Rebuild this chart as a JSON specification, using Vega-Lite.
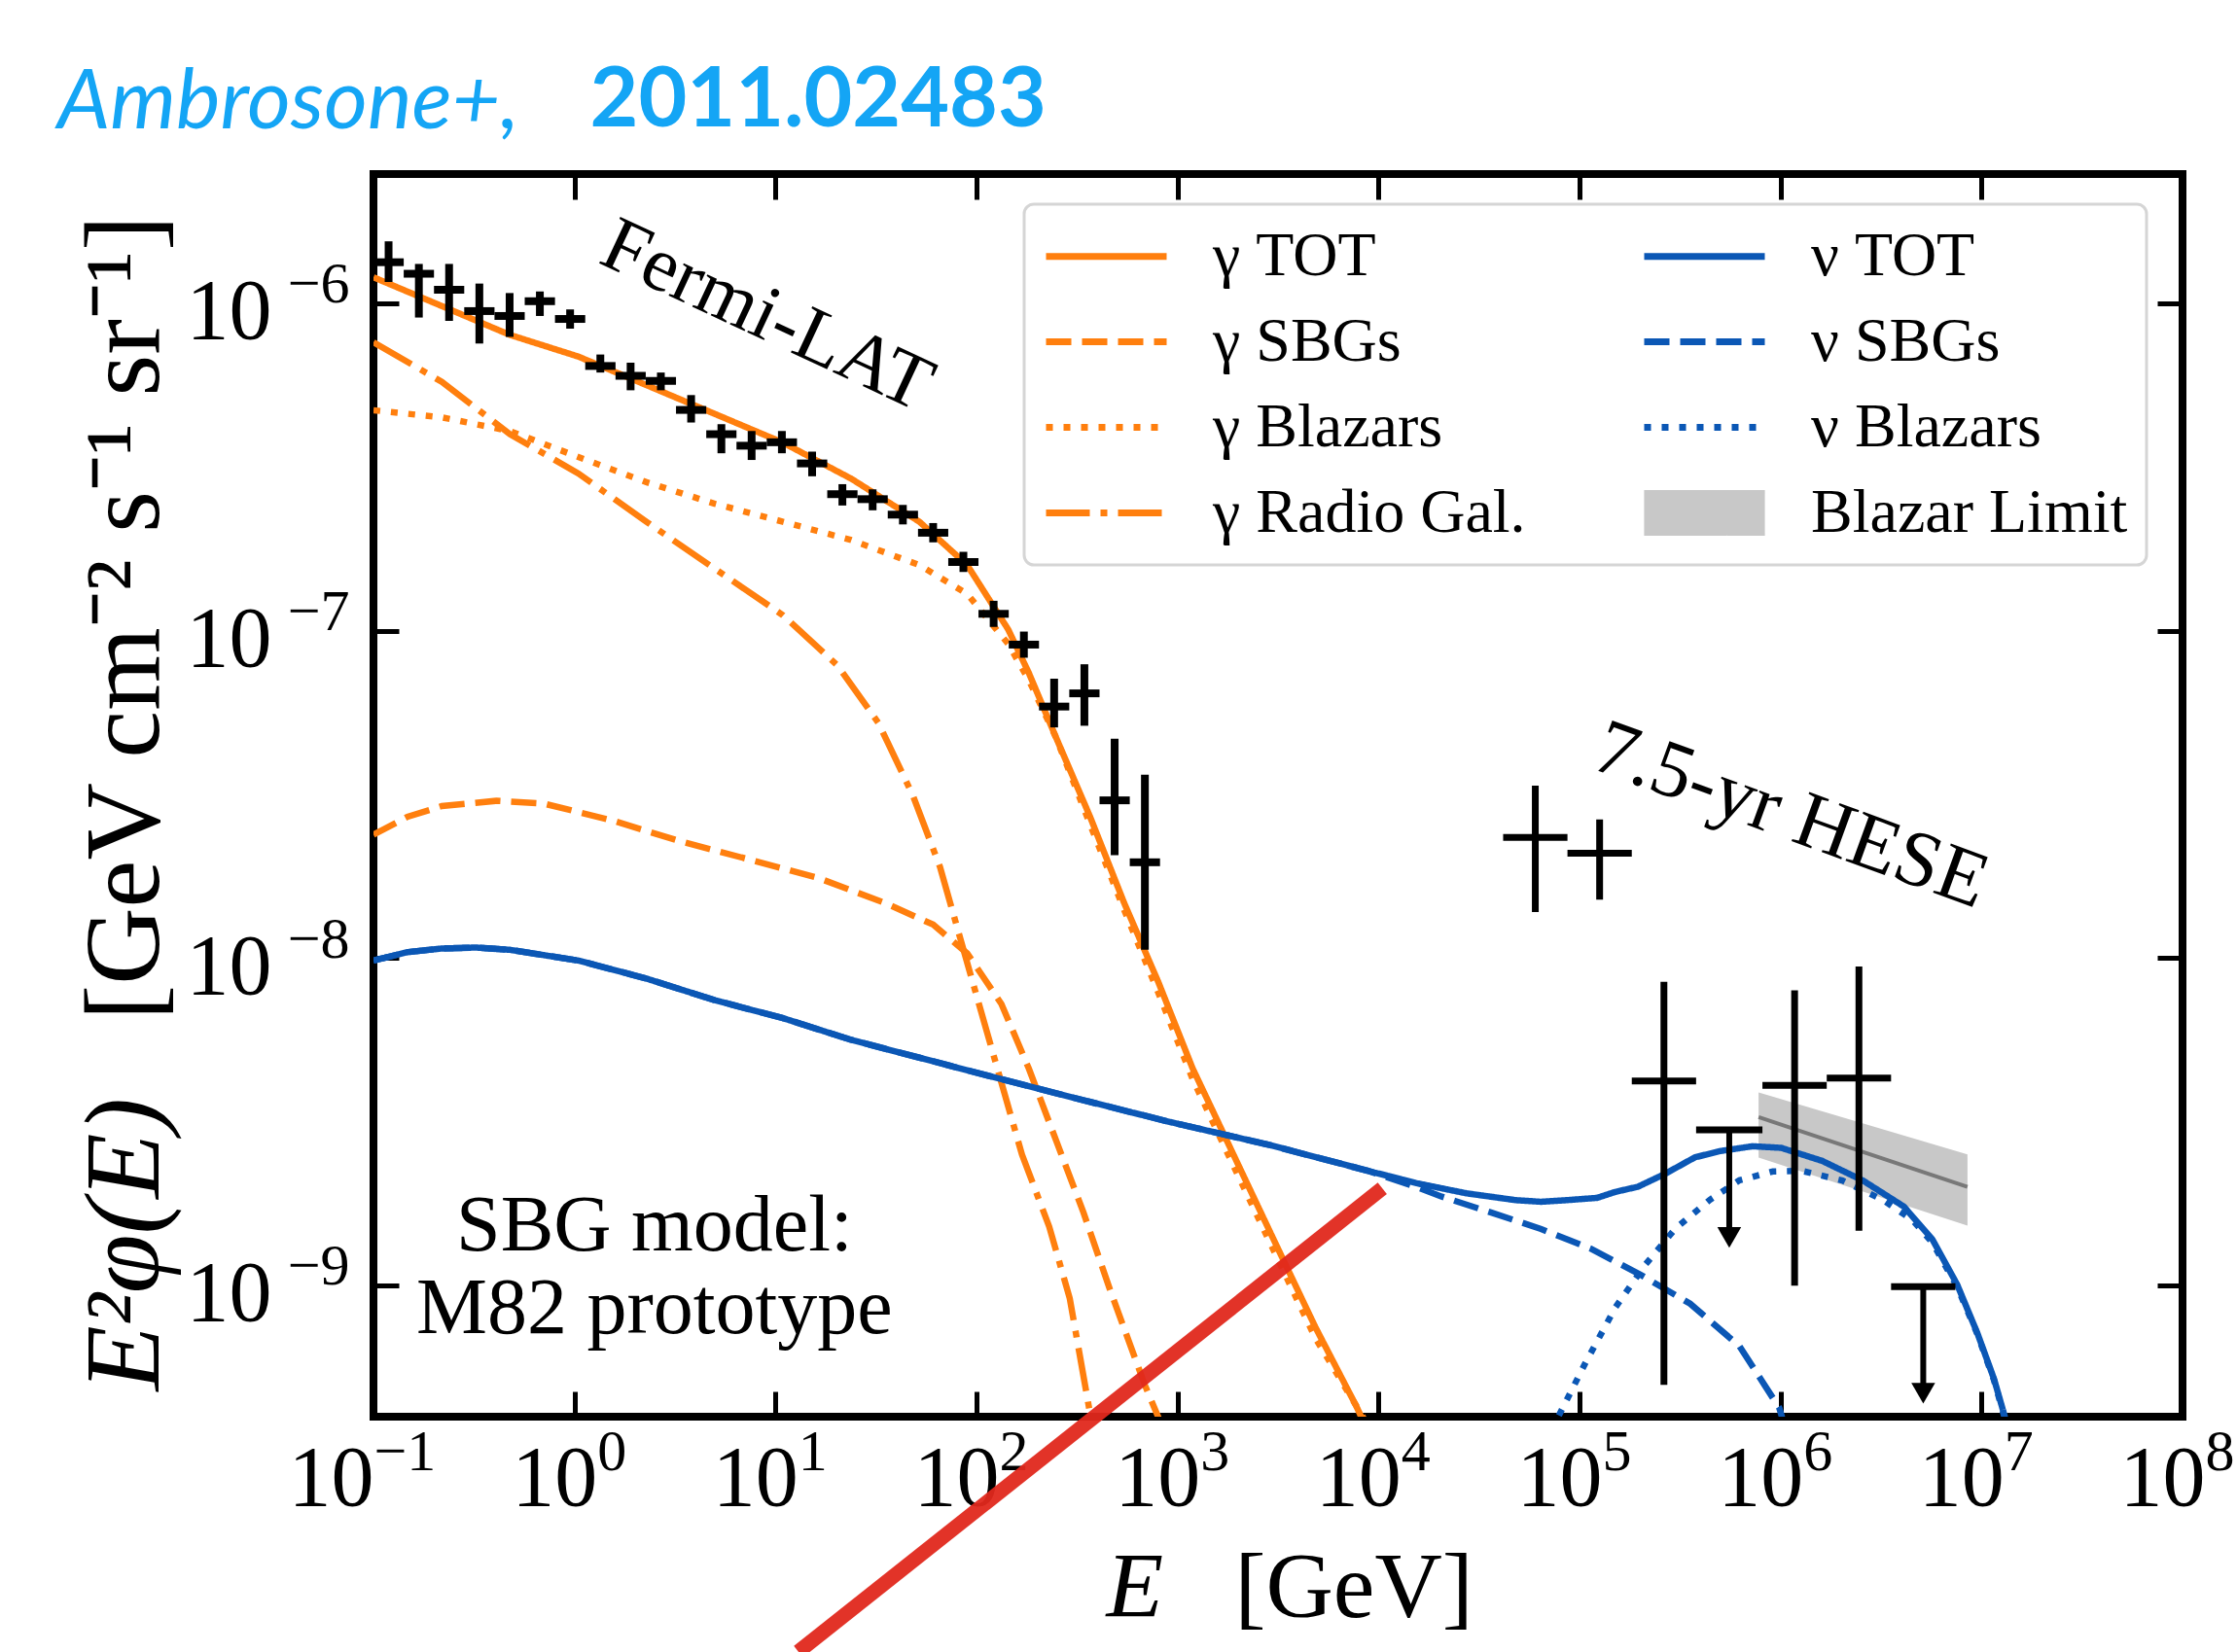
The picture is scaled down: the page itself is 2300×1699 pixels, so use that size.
{
"$schema": "https://vega.github.io/schema/vega-lite/v6.json",
"width": 1860, "height": 1278,
"autosize": {"type": "none"},
"padding": {"left": 384, "top": 179, "right": 56, "bottom": 242},
"background": "white",
"title": {"text": "Ambrosone+,", "anchor": "start", "frame": "group", "dx": -325, "dy": 158, "offset": 0, "font": "Lato", "fontSize": 86, "fontStyle": "italic", "fontWeight": "normal", "color": "#14a5f5", "baseline": "alphabetic"},
"config": {
  "view": {"stroke": "black", "strokeWidth": 8},
  "axis": {"grid": false, "domain": false, "labelFont": "Liberation Serif", "titleFont": "Liberation Serif", "labelColor": "black", "titleColor": "black", "tickColor": "black", "labelFlush": false, "labelOverlap": false, "labelBound": false, "titleFontWeight": "normal"},
  "legend": {"labelFont": "Liberation Serif", "labelFontSize": 64, "labelColor": "black", "labelLimit": 1000, "labelOffset": 106, "symbolType": "M-1,0H3", "symbolSize": 3844, "symbolStrokeWidth": 7, "columnPadding": 107, "rowPadding": 21, "padding": 19, "strokeColor": "#d5d5d5", "strokeWidth": 3, "fillColor": "white", "cornerRadius": 10, "symbolOpacity": 1}
},
"datasets": {
  "curves": [
    {"series": "γ TOT", "E": 0.1, "F": 1.2e-6},
    {"series": "γ TOT", "E": 0.2188, "F": 9.8e-7},
    {"series": "γ TOT", "E": 0.4775, "F": 8.0e-7},
    {"series": "γ TOT", "E": 1.045, "F": 6.87e-7},
    {"series": "γ TOT", "E": 2.28, "F": 5.62e-7},
    {"series": "γ TOT", "E": 4.989, "F": 4.59e-7},
    {"series": "γ TOT", "E": 10.89, "F": 3.75e-7},
    {"series": "γ TOT", "E": 23.82, "F": 2.91e-7},
    {"series": "γ TOT", "E": 52.0, "F": 2.15e-7},
    {"series": "γ TOT", "E": 89.9, "F": 1.585e-7},
    {"series": "γ TOT", "E": 143.9, "F": 1.007e-7},
    {"series": "γ TOT", "E": 182.0, "F": 7.43e-8},
    {"series": "γ TOT", "E": 248.9, "F": 4.71e-8},
    {"series": "γ TOT", "E": 367.3, "F": 2.70e-8},
    {"series": "γ TOT", "E": 543.3, "F": 1.47e-8},
    {"series": "γ TOT", "E": 803.5, "F": 8.43e-9},
    {"series": "γ TOT", "E": 1189, "F": 4.60e-9},
    {"series": "γ TOT", "E": 1897, "F": 2.51e-9},
    {"series": "γ TOT", "E": 3034, "F": 1.365e-9},
    {"series": "γ TOT", "E": 4853, "F": 7.45e-10},
    {"series": "γ TOT", "E": 7762, "F": 4.27e-10},
    {"series": "γ TOT", "E": 8913, "F": 3.55e-10},
    {"series": "γ Blazars", "E": 0.1, "F": 4.71e-7},
    {"series": "γ Blazars", "E": 0.2188, "F": 4.48e-7},
    {"series": "γ Blazars", "E": 0.4775, "F": 4.07e-7},
    {"series": "γ Blazars", "E": 1.045, "F": 3.39e-7},
    {"series": "γ Blazars", "E": 2.28, "F": 2.84e-7},
    {"series": "γ Blazars", "E": 4.989, "F": 2.44e-7},
    {"series": "γ Blazars", "E": 10.89, "F": 2.15e-7},
    {"series": "γ Blazars", "E": 23.82, "F": 1.89e-7},
    {"series": "γ Blazars", "E": 52.0, "F": 1.585e-7},
    {"series": "γ Blazars", "E": 89.9, "F": 1.294e-7},
    {"series": "γ Blazars", "E": 143.9, "F": 9.10e-8},
    {"series": "γ Blazars", "E": 182.0, "F": 7.06e-8},
    {"series": "γ Blazars", "E": 248.9, "F": 4.71e-8},
    {"series": "γ Blazars", "E": 367.3, "F": 2.56e-8},
    {"series": "γ Blazars", "E": 543.3, "F": 1.40e-8},
    {"series": "γ Blazars", "E": 803.5, "F": 7.82e-9},
    {"series": "γ Blazars", "E": 1189, "F": 4.27e-9},
    {"series": "γ Blazars", "E": 1897, "F": 2.32e-9},
    {"series": "γ Blazars", "E": 3034, "F": 1.265e-9},
    {"series": "γ Blazars", "E": 4853, "F": 6.90e-10},
    {"series": "γ Blazars", "E": 8395, "F": 3.95e-10},
    {"series": "γ Blazars", "E": 9550, "F": 3.39e-10},
    {"series": "γ Radio Gal.", "E": 0.1, "F": 7.60e-7},
    {"series": "γ Radio Gal.", "E": 0.2188, "F": 5.75e-7},
    {"series": "γ Radio Gal.", "E": 0.4775, "F": 3.98e-7},
    {"series": "γ Radio Gal.", "E": 1.045, "F": 3.02e-7},
    {"series": "γ Radio Gal.", "E": 2.28, "F": 2.15e-7},
    {"series": "γ Radio Gal.", "E": 4.989, "F": 1.545e-7},
    {"series": "γ Radio Gal.", "E": 10.89, "F": 1.114e-7},
    {"series": "γ Radio Gal.", "E": 20.37, "F": 7.82e-8},
    {"series": "γ Radio Gal.", "E": 32.58, "F": 5.21e-8},
    {"series": "γ Radio Gal.", "E": 48.19, "F": 3.14e-8},
    {"series": "γ Radio Gal.", "E": 65.77, "F": 1.90e-8},
    {"series": "γ Radio Gal.", "E": 83.18, "F": 1.143e-8},
    {"series": "γ Radio Gal.", "E": 105.2, "F": 6.89e-9},
    {"series": "γ Radio Gal.", "E": 133.0, "F": 4.16e-9},
    {"series": "γ Radio Gal.", "E": 168.3, "F": 2.51e-9},
    {"series": "γ Radio Gal.", "E": 230.1, "F": 1.51e-9},
    {"series": "γ Radio Gal.", "E": 291.1, "F": 9.12e-10},
    {"series": "γ Radio Gal.", "E": 367.3, "F": 4.06e-10},
    {"series": "γ Radio Gal.", "E": 398.1, "F": 3.16e-10},
    {"series": "γ SBGs", "E": 0.1, "F": 2.38e-8},
    {"series": "γ SBGs", "E": 0.1479, "F": 2.70e-8},
    {"series": "γ SBGs", "E": 0.2188, "F": 2.91e-8},
    {"series": "γ SBGs", "E": 0.4083, "F": 3.02e-8},
    {"series": "γ SBGs", "E": 0.7063, "F": 2.96e-8},
    {"series": "γ SBGs", "E": 1.542, "F": 2.63e-8},
    {"series": "γ SBGs", "E": 3.373, "F": 2.27e-8},
    {"series": "γ SBGs", "E": 7.379, "F": 2.0e-8},
    {"series": "γ SBGs", "E": 16.11, "F": 1.76e-8},
    {"series": "γ SBGs", "E": 35.24, "F": 1.47e-8},
    {"series": "γ SBGs", "E": 60.81, "F": 1.265e-8},
    {"series": "γ SBGs", "E": 89.9, "F": 1.033e-8},
    {"series": "γ SBGs", "E": 133.0, "F": 7.24e-9},
    {"series": "γ SBGs", "E": 182.0, "F": 4.60e-9},
    {"series": "γ SBGs", "E": 248.9, "F": 2.77e-9},
    {"series": "γ SBGs", "E": 340.4, "F": 1.67e-9},
    {"series": "γ SBGs", "E": 464.5, "F": 9.59e-10},
    {"series": "γ SBGs", "E": 687.1, "F": 4.97e-10},
    {"series": "γ SBGs", "E": 803.5, "F": 3.95e-10},
    {"series": "γ SBGs", "E": 891.3, "F": 3.39e-10},
    {"series": "ν SBGs", "E": 0.1, "F": 9.82e-9},
    {"series": "ν SBGs", "E": 0.1479, "F": 1.042e-8},
    {"series": "ν SBGs", "E": 0.2188, "F": 1.069e-8},
    {"series": "ν SBGs", "E": 0.3228, "F": 1.076e-8},
    {"series": "ν SBGs", "E": 0.4775, "F": 1.059e-8},
    {"series": "ν SBGs", "E": 1.045, "F": 9.82e-9},
    {"series": "ν SBGs", "E": 2.28, "F": 8.65e-9},
    {"series": "ν SBGs", "E": 4.989, "F": 7.43e-9},
    {"series": "ν SBGs", "E": 10.89, "F": 6.55e-9},
    {"series": "ν SBGs", "E": 23.82, "F": 5.62e-9},
    {"series": "ν SBGs", "E": 52.0, "F": 4.96e-9},
    {"series": "ν SBGs", "E": 113.8, "F": 4.37e-9},
    {"series": "ν SBGs", "E": 248.9, "F": 3.86e-9},
    {"series": "ν SBGs", "E": 905.7, "F": 3.16e-9},
    {"series": "ν SBGs", "E": 2825, "F": 2.69e-9},
    {"series": "ν SBGs", "E": 8810, "F": 2.24e-9},
    {"series": "ν SBGs", "E": 15524, "F": 1.995e-9},
    {"series": "ν SBGs", "E": 20654, "F": 1.866e-9},
    {"series": "ν SBGs", "E": 36475, "F": 1.667e-9},
    {"series": "ν SBGs", "E": 64417, "F": 1.486e-9},
    {"series": "ν SBGs", "E": 113763, "F": 1.294e-9},
    {"series": "ν SBGs", "E": 200447, "F": 1.079e-9},
    {"series": "ν SBGs", "E": 354813, "F": 8.79e-10},
    {"series": "ν SBGs", "E": 625173, "F": 6.52e-10},
    {"series": "ν SBGs", "E": 986279, "F": 4.22e-10},
    {"series": "ν SBGs", "E": 1071500, "F": 3.55e-10},
    {"series": "ν Blazars", "E": 70795, "F": 3.16e-10},
    {"series": "ν Blazars", "E": 78705, "F": 3.99e-10},
    {"series": "ν Blazars", "E": 107399, "F": 5.82e-10},
    {"series": "ν Blazars", "E": 151008, "F": 8.57e-10},
    {"series": "ν Blazars", "E": 212324, "F": 1.156e-9},
    {"series": "ν Blazars", "E": 298538, "F": 1.486e-9},
    {"series": "ν Blazars", "E": 444631, "F": 1.824e-9},
    {"series": "ν Blazars", "E": 625173, "F": 2.094e-9},
    {"series": "ν Blazars", "E": 916220, "F": 2.228e-9},
    {"series": "ν Blazars", "E": 1273500, "F": 2.239e-9},
    {"series": "ν Blazars", "E": 2032400, "F": 2.089e-9},
    {"series": "ν Blazars", "E": 3250900, "F": 1.82e-9},
    {"series": "ν Blazars", "E": 4518600, "F": 1.585e-9},
    {"series": "ν Blazars", "E": 5701600, "F": 1.349e-9},
    {"series": "ν Blazars", "E": 7568300, "F": 9.89e-10},
    {"series": "ν Blazars", "E": 9549900, "F": 7.08e-10},
    {"series": "ν Blazars", "E": 11535000, "F": 5.13e-10},
    {"series": "ν Blazars", "E": 12972000, "F": 3.98e-10},
    {"series": "ν Blazars", "E": 14125000, "F": 3.31e-10},
    {"series": "ν TOT", "E": 0.1, "F": 9.82e-9},
    {"series": "ν TOT", "E": 0.1479, "F": 1.042e-8},
    {"series": "ν TOT", "E": 0.2188, "F": 1.069e-8},
    {"series": "ν TOT", "E": 0.3228, "F": 1.076e-8},
    {"series": "ν TOT", "E": 0.4775, "F": 1.059e-8},
    {"series": "ν TOT", "E": 1.045, "F": 9.82e-9},
    {"series": "ν TOT", "E": 2.28, "F": 8.65e-9},
    {"series": "ν TOT", "E": 4.989, "F": 7.43e-9},
    {"series": "ν TOT", "E": 10.89, "F": 6.55e-9},
    {"series": "ν TOT", "E": 23.82, "F": 5.62e-9},
    {"series": "ν TOT", "E": 52.0, "F": 4.96e-9},
    {"series": "ν TOT", "E": 113.8, "F": 4.37e-9},
    {"series": "ν TOT", "E": 248.9, "F": 3.86e-9},
    {"series": "ν TOT", "E": 905.7, "F": 3.16e-9},
    {"series": "ν TOT", "E": 2825, "F": 2.69e-9},
    {"series": "ν TOT", "E": 8810, "F": 2.24e-9},
    {"series": "ν TOT", "E": 15524, "F": 2.05e-9},
    {"series": "ν TOT", "E": 27416, "F": 1.91e-9},
    {"series": "ν TOT", "E": 48417, "F": 1.82e-9},
    {"series": "ν TOT", "E": 64417, "F": 1.80e-9},
    {"series": "ν TOT", "E": 85507, "F": 1.82e-9},
    {"series": "ν TOT", "E": 122180, "F": 1.85e-9},
    {"series": "ν TOT", "E": 151008, "F": 1.93e-9},
    {"series": "ν TOT", "E": 194984, "F": 2.0e-9},
    {"series": "ν TOT", "E": 266073, "F": 2.19e-9},
    {"series": "ν TOT", "E": 374973, "F": 2.46e-9},
    {"series": "ν TOT", "E": 498884, "F": 2.57e-9},
    {"series": "ν TOT", "E": 726106, "F": 2.66e-9},
    {"series": "ν TOT", "E": 1007000, "F": 2.63e-9},
    {"series": "ν TOT", "E": 1611000, "F": 2.40e-9},
    {"series": "ν TOT", "E": 2570000, "F": 2.09e-9},
    {"series": "ν TOT", "E": 4111000, "F": 1.74e-9},
    {"series": "ν TOT", "E": 5702000, "F": 1.38e-9},
    {"series": "ν TOT", "E": 7568000, "F": 1.005e-9},
    {"series": "ν TOT", "E": 9550000, "F": 7.13e-10},
    {"series": "ν TOT", "E": 11535000, "F": 5.18e-10},
    {"series": "ν TOT", "E": 12972000, "F": 4.03e-10},
    {"series": "ν TOT", "E": 14125000, "F": 3.31e-10}
  ],
  "band": [
    {"E": 778000, "lo": 2.455e-9, "hi": 3.882e-9, "mid": 3.266e-9},
    {"E": 8510000, "lo": 1.521e-9, "hi": 2.512e-9, "mid": 2.0e-9}
  ],
  "fermi": [
    {"E": 0.1189, "Elo": 0.1, "Ehi": 0.1414, "F": 1.334e-6, "Flo": 1.161e-6, "Fhi": 1.545e-6},
    {"E": 0.1682, "Elo": 0.1414, "Ehi": 0.2, "F": 1.230e-6, "Flo": 9.04e-7, "Fhi": 1.318e-6},
    {"E": 0.2378, "Elo": 0.2, "Ehi": 0.2828, "F": 1.099e-6, "Flo": 8.83e-7, "Fhi": 1.318e-6},
    {"E": 0.3363, "Elo": 0.2828, "Ehi": 0.4, "F": 9.46e-7, "Flo": 7.53e-7, "Fhi": 1.148e-6},
    {"E": 0.4756, "Elo": 0.4, "Ehi": 0.5655, "F": 9.14e-7, "Flo": 7.89e-7, "Fhi": 1.074e-6},
    {"E": 0.6725, "Elo": 0.5655, "Ehi": 0.7998, "F": 1.014e-6, "Flo": 9.14e-7, "Fhi": 1.086e-6},
    {"E": 0.951, "Elo": 0.7998, "Ehi": 1.131, "F": 8.95e-7, "Flo": 8.36e-7, "Fhi": 9.57e-7},
    {"E": 1.345, "Elo": 1.131, "Ehi": 1.6, "F": 6.43e-7, "Flo": 6.14e-7, "Fhi": 6.97e-7},
    {"E": 1.902, "Elo": 1.6, "Ehi": 2.262, "F": 6.0e-7, "Flo": 5.42e-7, "Fhi": 6.58e-7},
    {"E": 2.69, "Elo": 2.262, "Ehi": 3.199, "F": 5.79e-7, "Flo": 5.42e-7, "Fhi": 6.14e-7},
    {"E": 3.804, "Elo": 3.199, "Ehi": 4.524, "F": 4.72e-7, "Flo": 4.32e-7, "Fhi": 5.24e-7},
    {"E": 5.38, "Elo": 4.524, "Ehi": 6.397, "F": 3.98e-7, "Flo": 3.48e-7, "Fhi": 4.27e-7},
    {"E": 7.607, "Elo": 6.397, "Ehi": 9.046, "F": 3.67e-7, "Flo": 3.32e-7, "Fhi": 4.07e-7},
    {"E": 10.76, "Elo": 9.046, "Ehi": 12.79, "F": 3.76e-7, "Flo": 3.48e-7, "Fhi": 4.07e-7},
    {"E": 15.21, "Elo": 12.79, "Ehi": 18.09, "F": 3.24e-7, "Flo": 2.96e-7, "Fhi": 3.52e-7},
    {"E": 21.52, "Elo": 18.09, "Ehi": 25.59, "F": 2.61e-7, "Flo": 2.41e-7, "Fhi": 2.80e-7},
    {"E": 30.43, "Elo": 25.59, "Ehi": 36.18, "F": 2.52e-7, "Flo": 2.33e-7, "Fhi": 2.70e-7},
    {"E": 43.03, "Elo": 36.18, "Ehi": 51.17, "F": 2.26e-7, "Flo": 2.11e-7, "Fhi": 2.42e-7},
    {"E": 60.85, "Elo": 51.17, "Ehi": 72.36, "F": 1.99e-7, "Flo": 1.86e-7, "Fhi": 2.13e-7},
    {"E": 86.06, "Elo": 72.36, "Ehi": 102.3, "F": 1.62e-7, "Flo": 1.51e-7, "Fhi": 1.74e-7},
    {"E": 121.7, "Elo": 102.3, "Ehi": 144.7, "F": 1.125e-7, "Flo": 1.026e-7, "Fhi": 1.233e-7},
    {"E": 172.1, "Elo": 144.7, "Ehi": 204.6, "F": 9.06e-8, "Flo": 8.26e-8, "Fhi": 9.93e-8},
    {"E": 243.4, "Elo": 204.6, "Ehi": 289.4, "F": 5.86e-8, "Flo": 5.06e-8, "Fhi": 7.13e-8},
    {"E": 344.2, "Elo": 289.4, "Ehi": 409.3, "F": 6.43e-8, "Flo": 5.12e-8, "Fhi": 7.89e-8},
    {"E": 486.7, "Elo": 409.3, "Ehi": 578.8, "F": 3.03e-8, "Flo": 2.06e-8, "Fhi": 4.67e-8},
    {"E": 688.3, "Elo": 578.8, "Ehi": 818.5, "F": 1.96e-8, "Flo": 1.06e-8, "Fhi": 3.63e-8}
  ],
  "hese": [
    {"E": 60260, "Elo": 41690, "Ehi": 87100, "F": 2.333e-8, "Flo": 1.380e-8, "Fhi": 3.357e-8},
    {"E": 125900, "Elo": 87100, "Ehi": 182000, "F": 2.089e-8, "Flo": 1.507e-8, "Fhi": 2.649e-8},
    {"E": 263000, "Elo": 182000, "Ehi": 380200, "F": 4.207e-9, "Flo": 4.966e-10, "Fhi": 8.453e-9},
    {"E": 1175000, "Elo": 812800, "Ehi": 1698000, "F": 4.083e-9, "Flo": 9.977e-10, "Fhi": 7.962e-9},
    {"E": 2455000, "Elo": 1698000, "Ehi": 3548000, "F": 4.295e-9, "Flo": 1.469e-9, "Fhi": 9.419e-9}
  ],
  "heseul": [
    {"E": 555900, "Elo": 380200, "Ehi": 812800, "F": 2.985e-9, "Farrow": 1.40e-9},
    {"E": 5129000, "Elo": 3548000, "Ehi": 7413000, "F": 9.908e-10, "Farrow": 4.68e-10}
  ],
  "redline": [
    {"E": 13.0, "F": 7.6e-11},
    {"E": 10447, "F": 1.977e-9}
  ]
},
"resolve": {"axis": {"x": "independent", "y": "independent"}},
"layer": [
  {
    "data": {"name": "band"},
    "mark": {"type": "area", "color": "#c8c8c8", "opacity": 1},
    "encoding": {
      "x": {"field": "E", "type": "quantitative", "scale": {"type": "log", "domain": [0.1, 100000000], "nice": false},
        "axis": {"orient": "bottom", "values": [0.1, 1, 10, 100, 1000, 10000, 100000, 1000000, 10000000, 100000000], "labels": false, "ticks": true, "tickSize": -26, "tickWidth": 5, "title": "E", "titleFontStyle": "italic", "titleFontSize": 96, "titleX": 753, "titleY": 205, "titleAlign": "left", "titleBaseline": "alphabetic"}},
      "y": {"field": "lo", "type": "quantitative", "scale": {"type": "log", "domain": [3.97e-10, 2.48e-6], "nice": false},
        "axis": {"orient": "left", "values": [1e-9, 1e-8, 1e-7, 1e-6], "labels": false, "ticks": true, "tickSize": -26, "tickWidth": 5, "title": "E²φ(E)", "titleFontStyle": "italic", "titleFontSize": 110, "titleAngle": -90, "titleX": -222, "titleY": 1251, "titleAlign": "left", "titleBaseline": "alphabetic"}},
      "y2": {"field": "hi"}
    }
  },
  {
    "data": {"name": "band"},
    "mark": {"type": "line", "color": "#787878", "strokeWidth": 4},
    "encoding": {
      "x": {"field": "E", "type": "quantitative", "scale": {"type": "log", "domain": [0.1, 100000000], "nice": false},
        "axis": {"orient": "top", "values": [0.1, 1, 10, 100, 1000, 10000, 100000, 1000000, 10000000, 100000000], "labels": false, "ticks": true, "tickSize": -26, "tickWidth": 5, "title": "2011.02483", "titleFont": "Lato", "titleFontSize": 86, "titleFontWeight": "bold", "titleColor": "#14a5f5", "titleX": 222, "titleY": -50, "titleAlign": "left", "titleBaseline": "alphabetic"}},
      "y": {"field": "mid", "type": "quantitative", "scale": {"type": "log", "domain": [3.97e-10, 2.48e-6], "nice": false},
        "axis": {"orient": "right", "values": [1e-9, 1e-8, 1e-7, 1e-6], "labels": false, "ticks": true, "tickSize": -26, "tickWidth": 5, "title": null}}
    }
  },
  {
    "data": {"name": "curves"},
    "mark": {"type": "line", "strokeWidth": 6.5, "strokeCap": "butt", "clip": true},
    "encoding": {
      "x": {"field": "E", "type": "quantitative", "scale": {"type": "log", "domain": [0.1, 100000000], "nice": false},
        "axis": {"orient": "bottom", "values": [0.1, 1, 10, 100, 1000, 10000, 100000, 1000000, 10000000, 100000000], "ticks": false, "labelExpr": "'10'", "labelFontSize": 88, "labelAlign": "right", "labelBaseline": "alphabetic", "labelPadding": 90, "labelOffset": {"condition": {"test": "datum.value < 1", "value": 0}, "value": 23}, "title": "[GeV]", "titleFontSize": 96, "titleX": 885, "titleY": 205, "titleAlign": "left", "titleBaseline": "alphabetic"}},
      "y": {"field": "F", "type": "quantitative", "scale": {"type": "log", "domain": [3.97e-10, 2.48e-6], "nice": false},
        "axis": {"orient": "left", "values": [1e-9, 1e-8, 1e-7, 1e-6], "ticks": false, "labelExpr": "'10'", "labelFontSize": 88, "labelAlign": "right", "labelBaseline": "alphabetic", "labelPadding": 105, "labelOffset": 36, "title": "[GeV cm⁻² s⁻¹ sr⁻¹]", "titleFontSize": 110, "titleAngle": -90, "titleX": -222, "titleY": 870, "titleAlign": "left", "titleBaseline": "alphabetic"}},
      "color": {"field": "series", "type": "nominal",
        "scale": {"domain": ["γ TOT", "γ SBGs", "γ Blazars", "γ Radio Gal.", "ν TOT", "ν SBGs", "ν Blazars", "Blazar Limit"], "range": ["#ff7f0e", "#ff7f0e", "#ff7f0e", "#ff7f0e", "#0b57b5", "#0b57b5", "#0b57b5", "#c8c8c8"]},
        "legend": {"orient": "none", "legendX": 669, "legendY": 31, "columns": 2, "title": null,
          "encode": {"symbols": {"update": {
            "strokeDash": {"signal": "(datum.value == 'γ SBGs' || datum.value == 'ν SBGs') ? [26,11] : (datum.value == 'γ Blazars' || datum.value == 'ν Blazars') ? [7,11] : datum.value == 'γ Radio Gal.' ? [45,11,7,11] : [1,0]"},
            "shape": {"signal": "datum.value == 'Blazar Limit' ? 'M-0.89,-0.645H2.89V0.645H-0.89Z' : 'M-1,0H3'"},
            "fill": {"signal": "datum.value == 'Blazar Limit' ? '#c8c8c8' : 'transparent'"}
          }}}}},
      "strokeDash": {"field": "series", "type": "nominal",
        "scale": {"domain": ["γ TOT", "γ SBGs", "γ Blazars", "γ Radio Gal.", "ν TOT", "ν SBGs", "ν Blazars"], "range": [[1, 0], [26, 11], [7, 11], [45, 11, 7, 11], [1, 0], [26, 11], [7, 11]]},
        "legend": null}
    }
  },
  {
    "data": {"name": "fermi"},
    "mark": {"type": "rule", "color": "black", "strokeWidth": 8},
    "encoding": {
      "x": {"field": "E", "type": "quantitative", "scale": {"type": "log", "domain": [0.1, 100000000], "nice": false},
        "axis": {"orient": "bottom", "values": [0.1, 1, 10, 100, 1000, 10000, 100000, 1000000, 10000000, 100000000], "ticks": false, "labelExpr": "format(round(log(datum.value)/LN10), 'd')", "labelFontSize": 60, "labelAlign": "left", "labelBaseline": "alphabetic", "labelPadding": 54, "labelOffset": {"condition": {"test": "datum.value < 1", "value": 0}, "value": 23}, "title": null}},
      "y": {"field": "Flo", "type": "quantitative", "scale": {"type": "log", "domain": [3.97e-10, 2.48e-6], "nice": false},
        "axis": {"orient": "left", "values": [1e-9, 1e-8, 1e-7, 1e-6], "ticks": false, "labelExpr": "format(round(log(datum.value)/LN10), 'd')", "labelFontSize": 60, "labelAlign": "right", "labelBaseline": "alphabetic", "labelPadding": 25, "labelOffset": -1, "title": null}},
      "y2": {"field": "Fhi"}
    }
  },
  {
    "data": {"name": "fermi"},
    "mark": {"type": "rule", "color": "black", "strokeWidth": 8},
    "encoding": {
      "x": {"field": "Elo", "type": "quantitative", "scale": {"type": "log", "domain": [0.1, 100000000], "nice": false}, "axis": null},
      "x2": {"field": "Ehi"},
      "y": {"field": "F", "type": "quantitative", "scale": {"type": "log", "domain": [3.97e-10, 2.48e-6], "nice": false}, "axis": null}
    }
  },
  {
    "data": {"name": "hese"},
    "mark": {"type": "rule", "color": "black", "strokeWidth": 7},
    "encoding": {
      "x": {"field": "E", "type": "quantitative", "scale": {"type": "log", "domain": [0.1, 100000000], "nice": false}, "axis": null},
      "y": {"field": "Flo", "type": "quantitative", "scale": {"type": "log", "domain": [3.97e-10, 2.48e-6], "nice": false}, "axis": null},
      "y2": {"field": "Fhi"}
    }
  },
  {
    "data": {"name": "hese"},
    "mark": {"type": "rule", "color": "black", "strokeWidth": 7},
    "encoding": {
      "x": {"field": "Elo", "type": "quantitative", "scale": {"type": "log", "domain": [0.1, 100000000], "nice": false}, "axis": null},
      "x2": {"field": "Ehi"},
      "y": {"field": "F", "type": "quantitative", "scale": {"type": "log", "domain": [3.97e-10, 2.48e-6], "nice": false}, "axis": null}
    }
  },
  {
    "data": {"name": "heseul"},
    "mark": {"type": "rule", "color": "black", "strokeWidth": 7},
    "encoding": {
      "x": {"field": "Elo", "type": "quantitative", "scale": {"type": "log", "domain": [0.1, 100000000], "nice": false}, "axis": null},
      "x2": {"field": "Ehi"},
      "y": {"field": "F", "type": "quantitative", "scale": {"type": "log", "domain": [3.97e-10, 2.48e-6], "nice": false}, "axis": null}
    }
  },
  {
    "data": {"name": "heseul"},
    "mark": {"type": "rule", "color": "black", "strokeWidth": 6},
    "encoding": {
      "x": {"field": "E", "type": "quantitative", "scale": {"type": "log", "domain": [0.1, 100000000], "nice": false}, "axis": null},
      "y": {"field": "Farrow", "type": "quantitative", "scale": {"type": "log", "domain": [3.97e-10, 2.48e-6], "nice": false}, "axis": null},
      "y2": {"field": "F"}
    }
  },
  {
    "data": {"name": "heseul"},
    "mark": {"type": "point", "shape": "triangle-down", "filled": true, "color": "black", "size": 600, "opacity": 1},
    "encoding": {
      "x": {"field": "E", "type": "quantitative", "scale": {"type": "log", "domain": [0.1, 100000000], "nice": false}, "axis": null},
      "y": {"field": "Farrow", "type": "quantitative", "scale": {"type": "log", "domain": [3.97e-10, 2.48e-6], "nice": false}, "axis": null}
    }
  },
  {
    "data": {"name": "redline"},
    "mark": {"type": "line", "color": "#e0281c", "strokeWidth": 15, "clip": false, "strokeCap": "butt", "opacity": 0.95},
    "encoding": {
      "x": {"field": "E", "type": "quantitative", "scale": {"type": "log", "domain": [0.1, 100000000], "nice": false}, "axis": null},
      "y": {"field": "F", "type": "quantitative", "scale": {"type": "log", "domain": [3.97e-10, 2.48e-6], "nice": false}, "axis": null}
    }
  },
  {
    "data": {"values": [{"label": "Fermi-LAT", "E": 9.10, "F": 9.15e-7}]},
    "mark": {"type": "text", "angle": 25, "font": "Liberation Serif", "fontSize": 80, "align": "center", "baseline": "middle", "color": "black"},
    "encoding": {
      "x": {"field": "E", "type": "quantitative", "scale": {"type": "log", "domain": [0.1, 100000000], "nice": false}, "axis": null},
      "y": {"field": "F", "type": "quantitative", "scale": {"type": "log", "domain": [3.97e-10, 2.48e-6], "nice": false}, "axis": null},
      "text": {"field": "label"}
    }
  },
  {
    "data": {"values": [{"label": "7.5-yr HESE", "E": 1132000, "F": 2.73e-8}]},
    "mark": {"type": "text", "angle": 20, "font": "Liberation Serif", "fontSize": 82, "align": "center", "baseline": "middle", "color": "black"},
    "encoding": {
      "x": {"field": "E", "type": "quantitative", "scale": {"type": "log", "domain": [0.1, 100000000], "nice": false}, "axis": null},
      "y": {"field": "F", "type": "quantitative", "scale": {"type": "log", "domain": [3.97e-10, 2.48e-6], "nice": false}, "axis": null},
      "text": {"field": "label"}
    }
  },
  {
    "data": {"values": [{"label": "SBG model:\nM82 prototype", "E": 2.50, "F": 1.28e-9}]},
    "mark": {"type": "text", "lineBreak": "\n", "lineHeight": 85, "font": "Liberation Serif", "fontSize": 82, "align": "center", "baseline": "alphabetic", "color": "black"},
    "encoding": {
      "x": {"field": "E", "type": "quantitative", "scale": {"type": "log", "domain": [0.1, 100000000], "nice": false}, "axis": null},
      "y": {"field": "F", "type": "quantitative", "scale": {"type": "log", "domain": [3.97e-10, 2.48e-6], "nice": false}, "axis": null},
      "text": {"field": "label"}
    }
  }
]
}
